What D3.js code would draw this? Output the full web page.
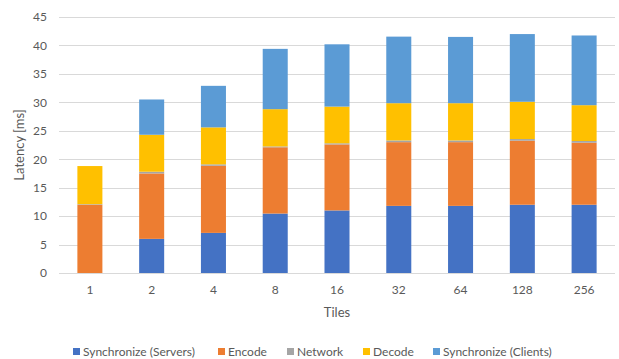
<!DOCTYPE html>
<html>
<head>
<meta charset="utf-8">
<script src="https://cdn.jsdelivr.net/npm/d3@7"></script>
<style>
  html, body { margin: 0; padding: 0; background: #fff; }
  svg { display: block; font-family: "Lato", "Open Sans", sans-serif; }
</style>
</head>
<body>
<svg id="chart" width="619" height="359"></svg>
<script>
// Tile counts along the x axis
const tiles = ["1", "2", "4", "8", "16", "32", "64", "128", "256"];

// Latency components in milliseconds, stacked bottom to top
const syncServers = [0, 6.0, 7.05, 10.45, 11.0, 11.8, 11.8, 12.0, 12.0];
const encode      = [12.0, 11.5, 11.8, 11.65, 11.6, 11.2, 11.2, 11.25, 10.9];
const network     = [0.1, 0.3, 0.25, 0.15, 0.2, 0.3, 0.3, 0.3, 0.3];
const decode      = [6.7, 6.5, 6.5, 6.55, 6.45, 6.55, 6.55, 6.55, 6.3];
const syncClients = [0, 6.2, 7.3, 10.6, 10.95, 11.7, 11.65, 11.9, 12.25];

const seriesNames = ["Synchronize (Servers)", "Encode", "Network", "Decode", "Synchronize (Clients)"];
const seriesColors = ["#4472C4", "#ED7D31", "#A5A5A5", "#FFC000", "#5B9BD5"];
const yTicks = [0, 5, 10, 15, 20, 25, 30, 35, 40, 45];

const seriesValues = [syncServers, encode, network, decode, syncClients];
const rows = tiles.map((t, i) => {
  const r = { tile: t };
  seriesNames.forEach((s, k) => { r[s] = seriesValues[k][i]; });
  return r;
});

const svg = d3.select("#chart");
const margin = { left: 59, right: 4, top: 17, bottom: 86 };
const W = 619, H = 359;

const x = d3.scaleBand().domain(tiles).range([margin.left, W - margin.right]).paddingInner(0.595).paddingOuter(0.2975);
const y = d3.scaleLinear().domain([0, 45]).range([H - margin.bottom, margin.top]);

// Horizontal gridlines
svg.append("g").selectAll("line").data(yTicks).join("line")
  .attr("x1", margin.left).attr("x2", W - margin.right)
  .attr("y1", d => Math.round(y(d)) + 0.5).attr("y2", d => Math.round(y(d)) + 0.5)
  .attr("stroke", "#D9D9D9").attr("stroke-width", 1);

// Y axis labels
const yAxis = svg.append("g").attr("transform", `translate(${margin.left - 12},0)`)
  .call(d3.axisLeft(y).tickValues(yTicks).tickSize(0).tickPadding(0));
yAxis.select(".domain").remove();
yAxis.selectAll("text").attr("fill", "#595959").attr("font-size", 12).attr("font-family", "Lato, sans-serif");

// Stacked bars
const stack = d3.stack().keys(seriesNames)(rows);
svg.append("g").selectAll("g").data(stack).join("g")
  .attr("fill", (d, i) => seriesColors[i])
  .selectAll("rect").data(d => d).join("rect")
  .attr("x", d => x(d.data.tile))
  .attr("width", x.bandwidth())
  .attr("y", d => y(d[1]))
  .attr("height", d => Math.max(0, y(d[0]) - y(d[1])));

// X axis labels
const xAxis = svg.append("g").attr("transform", `translate(0,${y(0) + 12})`)
  .call(d3.axisBottom(x).tickSize(0).tickPadding(0));
xAxis.select(".domain").remove();
xAxis.selectAll("text").attr("fill", "#595959").attr("font-size", 12).attr("font-family", "Lato, sans-serif");

// Axis titles
svg.append("text")
  .attr("x", x("16") + x.bandwidth() / 2).attr("y", 317)
  .attr("text-anchor", "middle").attr("fill", "#595959").attr("font-size", 13)
  .text("Tiles");
svg.append("text")
  .attr("transform", `translate(24,145) rotate(-90)`)
  .attr("text-anchor", "middle").attr("fill", "#595959").attr("font-size", 13)
  .text("Latency [ms]");

// Legend
const legendX = [73, 218, 287, 363, 433];
const legend = svg.append("g").selectAll("g").data(seriesNames).join("g")
  .attr("transform", (d, i) => `translate(${legendX[i]},352)`);
legend.append("rect").attr("x", 0).attr("y", -4).attr("width", 7).attr("height", 7)
  .attr("fill", (d, i) => seriesColors[i]);
legend.append("text").attr("x", 10).attr("y", 4)
  .attr("fill", "#595959").attr("font-size", 12)
  .text(d => d);
</script>
</body>
</html>
